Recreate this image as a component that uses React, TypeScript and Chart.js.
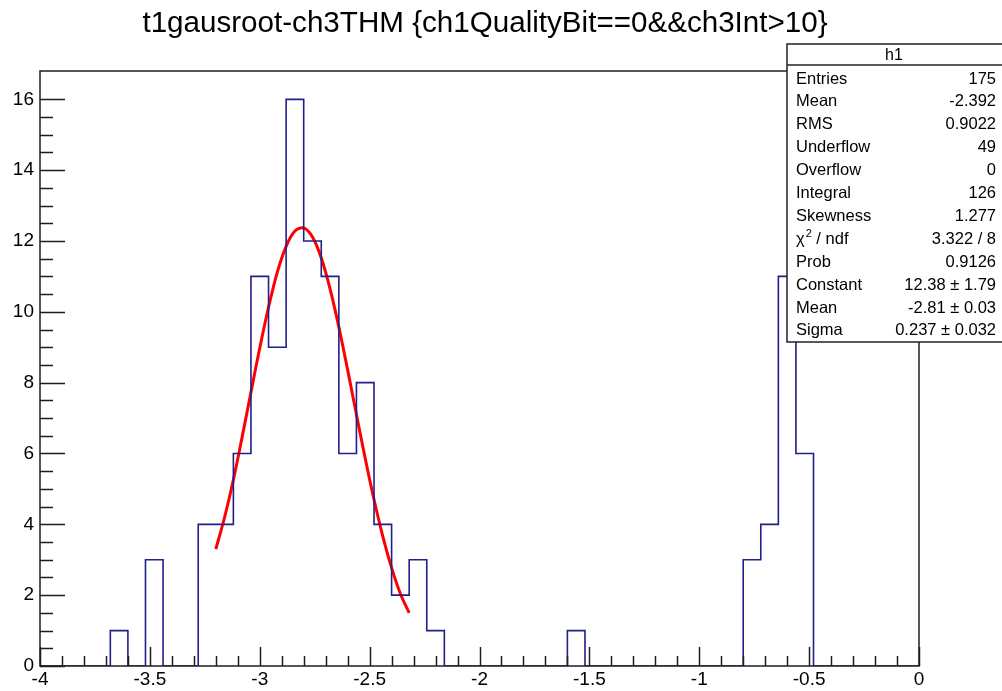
import { useEffect, useRef } from "react";
import { Chart, registerables } from "chart.js";

Chart.register(...registerables);

// ---- data ----
const chartTitle = "t1gausroot-ch3THM {ch1QualityBit==0&&ch3Int>10}";
const binLow = -4;
const binWidth = 0.08;
const binCounts = [
  0, 0, 0, 0, 1, 0, 3, 0, 0, 4,
  4, 6, 11, 9, 16, 12, 11, 6, 8, 4,
  2, 3, 1, 0, 0, 0, 0, 0, 0, 0,
  1, 0, 0, 0, 0, 0, 0, 0, 0, 0,
  3, 4, 11, 6, 0, 0, 0, 0, 0, 0,
];
const fitX = [
  -3.2, -3.16, -3.12, -3.08, -3.04, -3.0, -2.96, -2.92, -2.88, -2.84, -2.8, -2.76,
  -2.72, -2.68, -2.64, -2.6, -2.56, -2.52, -2.48, -2.44, -2.4, -2.36, -2.32,
];
const fitY = [
  3.3, 4.2, 5.26, 6.47, 7.73, 8.98, 10.13, 11.12, 11.85, 12.28, 12.37, 12.11,
  11.52, 10.65, 9.57, 8.36, 7.1, 5.86, 4.7, 3.66, 2.77, 2.04, 1.5,
];
const statsName = "h1";
const statLabels = [
  "Entries", "Mean", "RMS", "Underflow", "Overflow", "Integral", "Skewness",
  "χ2 / ndf", "Prob", "Constant", "Mean", "Sigma",
];
const statValues = [
  "175", "-2.392", "0.9022", "49", "0", "126", "1.277",
  "3.322 / 8", "0.9126", "12.38 ± 1.79", "-2.81 ± 0.03", "0.237 ± 0.032",
];
const xMin = -4;
const xMax = 0;
const yMin = 0;
const yMax = 16.8;

const FONT = "'Liberation Sans', Arial, Helvetica, sans-serif";

const isMult = (v: number, s: number) => Math.abs(v / s - Math.round(v / s)) < 1e-6;

const rootPlugin = {
  id: "rootDecor",
  afterDraw(chart: any) {
    const ctx: CanvasRenderingContext2D = chart.ctx;
    const { left, right, top, bottom } = chart.chartArea;
    const xs = chart.scales.x;
    const ys = chart.scales.y;
    ctx.save();
    ctx.strokeStyle = "#1e1e1e";
    ctx.lineWidth = 1.5;
    ctx.beginPath();
    xs.ticks.forEach((t: any) => {
      const v = t.value;
      if (!isMult(v, 0.1)) return;
      const px = Math.round(xs.getPixelForValue(v)) + 0.5;
      const len = isMult(v, 0.5) ? 19 : 10;
      ctx.moveTo(px, bottom);
      ctx.lineTo(px, bottom - len);
    });
    ys.ticks.forEach((t: any) => {
      const v = t.value;
      if (!isMult(v, 0.5)) return;
      const py = Math.round(ys.getPixelForValue(v)) + 0.5;
      const len = isMult(v, 2) ? 25 : 13;
      ctx.moveTo(left, py);
      ctx.lineTo(left + len, py);
    });
    ctx.stroke();
    ctx.strokeRect(left, top, right - left, bottom - top);

    // title
    ctx.fillStyle = "#000";
    ctx.font = `29.6px ${FONT}`;
    ctx.textAlign = "center";
    ctx.textBaseline = "alphabetic";
    ctx.fillText(chartTitle, 485, 32);

    // stats box
    const bx = 787, by = 44, bw = 220, bh = 298;
    ctx.fillStyle = "#fff";
    ctx.fillRect(bx, by, bw, bh);
    ctx.strokeStyle = "#222";
    ctx.lineWidth = 1.5;
    ctx.strokeRect(bx, by, bw, bh);
    ctx.beginPath();
    ctx.moveTo(bx, 65);
    ctx.lineTo(bx + bw, 65);
    ctx.stroke();
    ctx.fillStyle = "#000";
    ctx.font = `16px ${FONT}`;
    ctx.textAlign = "center";
    ctx.textBaseline = "middle";
    ctx.fillText(statsName, 894, 56);
    statLabels.forEach((lab, i) => {
      const y = 79 + i * 22.9;
      ctx.textAlign = "left";
      ctx.font = `16.5px ${FONT}`;
      if (lab.startsWith("χ2")) {
        ctx.fillText("χ", 796, y);
        const w = ctx.measureText("χ").width;
        ctx.font = `11px ${FONT}`;
        ctx.fillText("2", 796 + w + 1, y - 5);
        const w2 = ctx.measureText("2").width;
        ctx.font = `16.5px ${FONT}`;
        ctx.fillText(" / ndf", 796 + w + 1 + w2, y);
      } else {
        ctx.fillText(lab, 796, y);
      }
      ctx.textAlign = "right";
      ctx.fillText(statValues[i], 996, y);
    });
    ctx.restore();
  },
};

export default function App() {
  const ref = useRef<HTMLCanvasElement | null>(null);
  useEffect(() => {
    document.body.style.margin = "0";
    const canvas = ref.current;
    if (!canvas) return;
    const histPoints = binCounts.map((c, i) => ({ x: binLow + i * binWidth, y: c }));
    histPoints.push({ x: binLow + binCounts.length * binWidth, y: 0 });
    const fitPoints = fitX.map((x, i) => ({ x, y: fitY[i] }));
    const chart = new Chart(canvas, {
      type: "line",
      data: {
        datasets: [
          {
            data: histPoints,
            borderColor: "#20208a",
            borderWidth: 1.6,
            pointRadius: 0,
            stepped: "before",
            fill: false,
          } as any,
          {
            data: fitPoints,
            borderColor: "#ff0000",
            borderWidth: 3,
            pointRadius: 0,
            tension: 0.35,
            fill: false,
          },
        ],
      },
      options: {
        animation: false,
        responsive: false,
        parsing: false as any,
        layout: { padding: { top: 71, right: 83, left: 0, bottom: 0 } },
        plugins: { legend: { display: false }, tooltip: { enabled: false }, title: { display: false } },
        scales: {
          x: {
            type: "linear",
            min: xMin,
            max: xMax,
            grid: { display: false },
            border: { display: false },
            afterFit: (s: any) => { s.height = 25; },
            ticks: {
              stepSize: 0.1,
              autoSkip: false,
              maxRotation: 0,
              minRotation: 0,
              padding: -6,
              color: "#000",
              font: { family: FONT, size: 19 },
              callback: (v: any) => {
                const n = Number(v);
                return isMult(n, 0.5) ? String(Math.round(n * 10) / 10) : "";
              },
            },
          },
          y: {
            type: "linear",
            min: yMin,
            max: yMax,
            grid: { display: false },
            border: { display: false },
            afterFit: (s: any) => { s.width = 40; },
            ticks: {
              stepSize: 0.5,
              autoSkip: false,
              padding: -2,
              color: "#000",
              font: { family: FONT, size: 19 },
              callback: (v: any) => {
                const n = Number(v);
                return isMult(n, 2) ? String(Math.round(n)) : "";
              },
            },
          },
        },
      },
      plugins: [rootPlugin],
    });
    return () => chart.destroy();
  }, []);
  return <canvas ref={ref} width={1002} height={691} style={{ display: "block" }} />;
}
